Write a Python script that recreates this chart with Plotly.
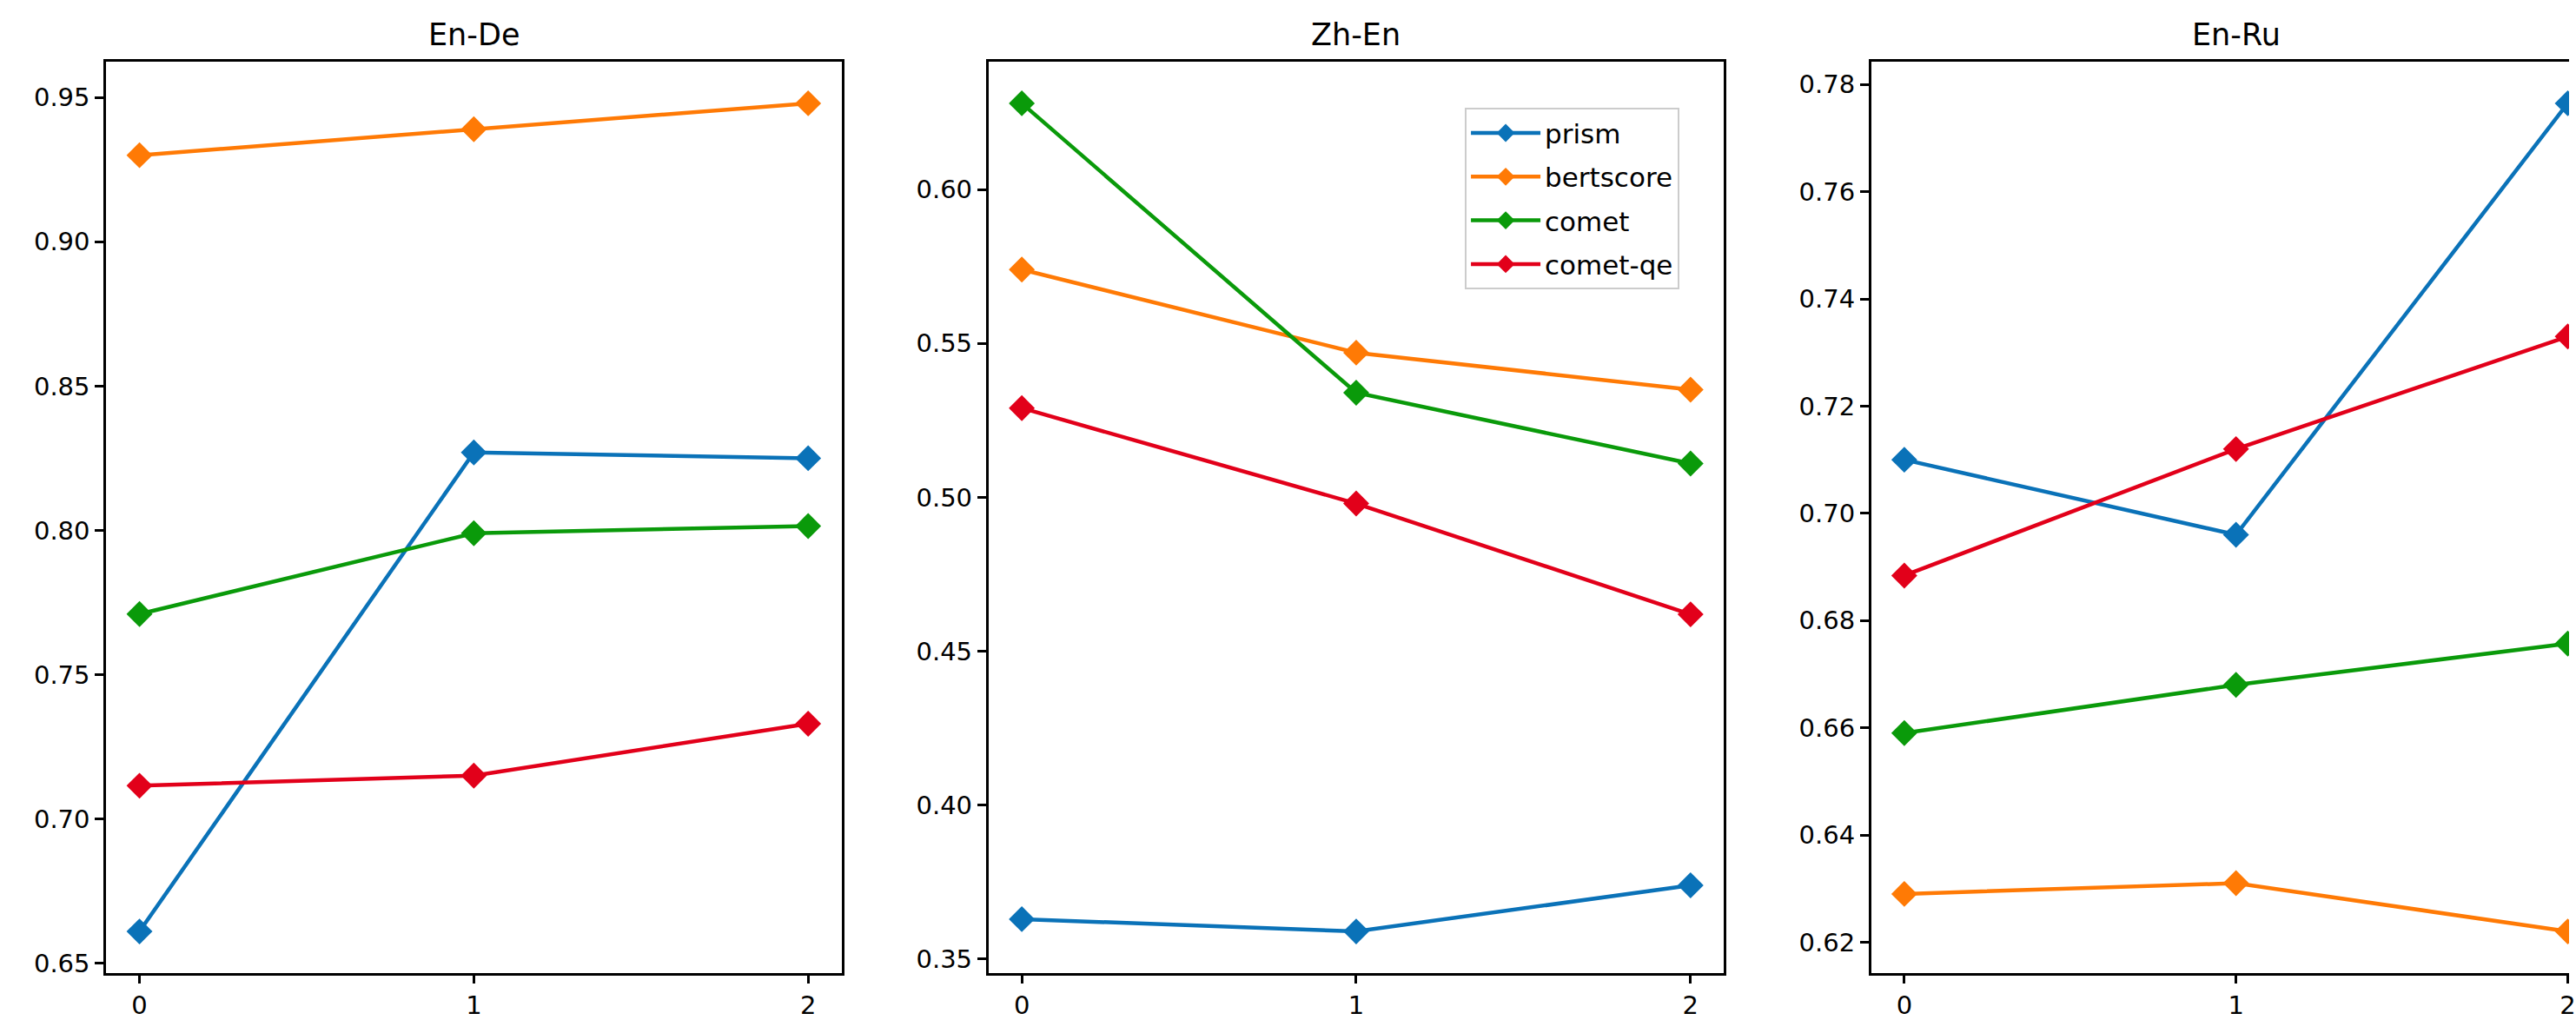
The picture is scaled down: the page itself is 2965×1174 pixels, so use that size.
import plotly.graph_objects as go

W, H = 2965, 1174

x_vals = [0, 1, 2]
panel_titles = ["En-De", "Zh-En", "En-Ru"]
metrics = ["prism", "bertscore", "comet", "comet-qe"]

en_de_prism = [0.661, 0.827, 0.825]
en_de_bertscore = [0.930, 0.939, 0.948]
en_de_comet = [0.771, 0.799, 0.8015]
en_de_cometqe = [0.7115, 0.715, 0.733]

zh_en_prism = [0.363, 0.359, 0.374]
zh_en_bertscore = [0.574, 0.547, 0.535]
zh_en_comet = [0.628, 0.534, 0.511]
zh_en_cometqe = [0.529, 0.498, 0.462]

en_ru_prism = [0.710, 0.696, 0.7765]
en_ru_bertscore = [0.629, 0.631, 0.622]
en_ru_comet = [0.659, 0.668, 0.6757]
en_ru_cometqe = [0.6884, 0.712, 0.733]

panels = [
    [en_de_prism, en_de_bertscore, en_de_comet, en_de_cometqe],
    [zh_en_prism, zh_en_bertscore, zh_en_comet, zh_en_cometqe],
    [en_ru_prism, en_ru_bertscore, en_ru_comet, en_ru_cometqe],
]
y_dticks = [0.05, 0.05, 0.02]

colors = ["#0a72b8", "#ff7a05", "#0a9a0a", "#e2001a"]

FONT = "DejaVu Sans"
TICK_FS = 29
TITLE_FS = 35

# pixel layout
x_domains_px = [(122.4, 971.3), (1140.7, 1989.7), (2159.5, 2965)]
y_top_px, y_bot_px = 71.6, 1125.5

fig = go.Figure()

for p, series in enumerate(panels):
    ax = "" if p == 0 else str(p + 1)
    for m, vals in enumerate(series):
        fig.add_trace(go.Scatter(
            x=x_vals, y=vals, mode="lines+markers", name=metrics[m],
            line=dict(color=colors[m], width=4.5),
            marker=dict(symbol="diamond", size=23, color=colors[m]),
            xaxis="x" + ax, yaxis="y" + ax,
            legendgroup=metrics[m], showlegend=(p == 1),
        ))

layout = dict(
    width=W, height=H,
    margin=dict(l=0, r=0, t=0, b=0),
    paper_bgcolor="white", plot_bgcolor="white",
    font=dict(family=FONT, size=TICK_FS, color="black"),
    showlegend=True,
    legend=dict(
        x=1938.3 / W, y=1 - 125 / H, xanchor="right", yanchor="top",
        bgcolor="rgba(255,255,255,0.8)", bordercolor="#cccccc", borderwidth=2,
        font=dict(family=FONT, size=31, color="black"),
        tracegroupgap=7, itemwidth=80,
    ),
)

annotations = []
for p, series in enumerate(panels):
    ax = "" if p == 0 else str(p + 1)
    allv = [v for s in series for v in s]
    lo, hi = min(allv), max(allv)
    pad = 0.05 * (hi - lo)
    x0, x1 = x_domains_px[p]
    xr = [-0.1, 2.1] if p < 2 else [-0.1, 2.004]
    layout["xaxis" + ax] = dict(
        domain=[x0 / W, x1 / W], range=xr, anchor="y" + ax,
        tickvals=x_vals, ticktext=[str(v) for v in x_vals],
        ticks="outside", ticklen=10, tickwidth=2.5, tickcolor="black",
        showline=True, linecolor="black", linewidth=2.5, mirror=True,
        showgrid=False, zeroline=False, ticklabeloverflow="allow",
        tickfont=dict(family=FONT, size=TICK_FS, color="black"),
        fixedrange=True,
    )
    layout["yaxis" + ax] = dict(
        domain=[1 - y_bot_px / H, 1 - y_top_px / H], range=[lo - pad, hi + pad],
        anchor="x" + ax, dtick=y_dticks[p], tick0=0, tickformat=".2f",
        ticks="outside", ticklen=10, tickwidth=2.5, tickcolor="black",
        showline=True, linecolor="black", linewidth=2.5, mirror=(p < 2),
        showgrid=False, zeroline=False,
        tickfont=dict(family=FONT, size=TICK_FS, color="black"),
        fixedrange=True,
    )
    annotations.append(dict(
        text=panel_titles[p], xref="x" + ax, yref="paper", x=1, y=1 - 40 / H,
        xanchor="center", yanchor="middle", showarrow=False,
        font=dict(family=FONT, size=TITLE_FS, color="black"),
    ))

layout["annotations"] = annotations
fig.update_layout(**layout)

fig.write_html(
    "out.html",
    config={"displayModeBar": False},
    post_script="document.body.style.margin='0';document.body.style.overflow='hidden';",
)
